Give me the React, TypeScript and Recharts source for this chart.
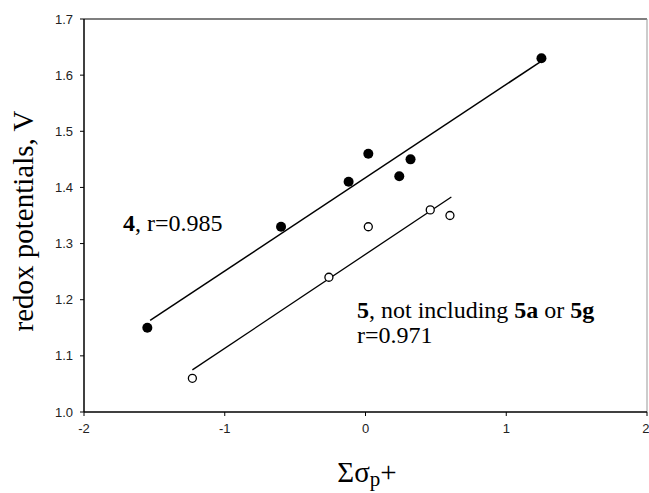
import React from "react";
import {
  ReferenceLine,
  Scatter,
  ScatterChart,
  XAxis,
  YAxis,
} from "recharts";

// compound 4 (filled) and compound 5 (open)
const series4 = [
  { x: -1.55, y: 1.15 },
  { x: -0.6, y: 1.33 },
  { x: -0.12, y: 1.41 },
  { x: 0.02, y: 1.46 },
  { x: 0.24, y: 1.42 },
  { x: 0.32, y: 1.45 },
  { x: 1.25, y: 1.63 },
];
const series5 = [
  { x: -1.23, y: 1.06 },
  { x: -0.26, y: 1.24 },
  { x: 0.02, y: 1.33 },
  { x: 0.46, y: 1.36 },
  { x: 0.6, y: 1.35 },
];
// regression line end points
const fit4 = [
  { x: -1.53, y: 1.163 },
  { x: 1.25, y: 1.625 },
];
const fit5 = [
  { x: -1.23, y: 1.075 },
  { x: 0.61, y: 1.383 },
];

const xTicks = [-2, -1, 0, 1, 2];
const yTicks = [1.0, 1.1, 1.2, 1.3, 1.4, 1.5, 1.6, 1.7];

const SERIF = "'Liberation Serif', 'Times New Roman', serif";
const SANS = "'Liberation Sans', Arial, sans-serif";

const tickStyle = { fontSize: 13, fill: "#222", fontFamily: SANS };

const FilledDot = (p: any) => <circle cx={p.cx} cy={p.cy} r={5} fill="#000" />;
const OpenDot = (p: any) => (
  <circle cx={p.cx} cy={p.cy} r={4} fill="#fff" stroke="#000" strokeWidth={1.3} />
);

export default function App() {
  return (
    <div style={{ position: "absolute", left: 0, top: 0, width: 649, height: 493, background: "#fff" }}>
      <ScatterChart width={649} height={493} margin={{ top: 19, right: 2, bottom: 51, left: 0 }}>
        <XAxis
          type="number"
          dataKey="x"
          domain={[-2, 2]}
          ticks={xTicks}
          allowDataOverflow
          tick={tickStyle}
          tickSize={4}
          tickMargin={8}
          height={30}
          axisLine={{ stroke: "#000", strokeWidth: 1.5 }}
          tickLine={{ stroke: "#000" }}
        />
        <YAxis
          type="number"
          dataKey="y"
          domain={[1, 1.7]}
          ticks={yTicks}
          allowDataOverflow
          tickFormatter={(v: number) => v.toFixed(1)}
          tick={tickStyle}
          tickSize={4}
          tickMargin={7}
          width={84}
          axisLine={{ stroke: "#000", strokeWidth: 1.5 }}
          tickLine={{ stroke: "#000" }}
        />
        <ReferenceLine y={1.7} stroke="#000" strokeWidth={1.2} />
        <ReferenceLine x={2} stroke="#999" strokeWidth={1} />
        <ReferenceLine segment={fit4} stroke="#000" strokeWidth={1.5} ifOverflow="visible" />
        <ReferenceLine segment={fit5} stroke="#000" strokeWidth={1.3} ifOverflow="visible" />
        <Scatter data={series4} shape={FilledDot} isAnimationActive={false} />
        <Scatter data={series5} shape={OpenDot} isAnimationActive={false} />
      </ScatterChart>
      <svg
        width={649}
        height={493}
        style={{ position: "absolute", left: 0, top: 0, pointerEvents: "none" }}
      >
        <text
          x={33}
          y={221}
          transform="rotate(-90 33 221)"
          textAnchor="middle"
          fontFamily={SERIF}
          fontSize={29}
          fill="#000"
        >
          redox potentials, V
        </text>
        <text x={367} y={482} textAnchor="middle" fontFamily={SERIF} fontSize={29} fill="#000">
          Σσ
          <tspan fontSize={21} dy={4}>p</tspan>
          <tspan dy={-4}>+</tspan>
        </text>
        <text x={123} y={231} fontFamily={SERIF} fontSize={24} fill="#000">
          <tspan fontWeight="bold">4</tspan>, r=0.985
        </text>
        <text x={357} y={318} fontFamily={SERIF} fontSize={24} fill="#000">
          <tspan fontWeight="bold">5</tspan>, not including <tspan fontWeight="bold">5a</tspan> or{" "}
          <tspan fontWeight="bold">5g</tspan>
        </text>
        <text x={357} y={343} fontFamily={SERIF} fontSize={24} fill="#000">
          r=0.971
        </text>
      </svg>
    </div>
  );
}
